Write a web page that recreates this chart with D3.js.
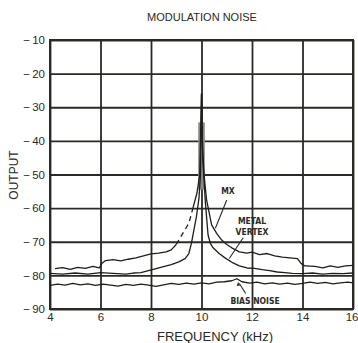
<!DOCTYPE html>
<html>
<head>
<meta charset="utf-8">
<script src="https://cdn.jsdelivr.net/npm/d3@7"></script>
<style>
  body { margin: 0; background: #fff; }
  text { font-family: "Liberation Sans", Arial, sans-serif; fill: #2a2a25; }
</style>
</head>
<body>
<script>
// tick labels
var xTicks = [4, 6, 8, 10, 12, 14, 16];
var yTicks = [-10, -20, -30, -40, -50, -60, -70, -80, -90];

// MX (outer skirt) - freq kHz / output dB
var mxFreq = [4.2, 4.5, 4.8, 5.1, 5.4, 5.7, 5.95, 6.05, 6.2, 6.5, 6.8, 7.1, 7.4, 7.7, 8.0, 8.3, 8.6, 8.8, 9.0,
  9.3, 9.5, 9.66, 9.82, 9.93, 10.0, 10.04, 10.1, 10.2, 10.4, 10.6, 10.8, 11.0, 11.2, 11.5, 11.8, 12.0, 12.3,
  12.6, 12.9, 13.2, 13.5, 13.8, 13.95, 14.1, 14.5, 14.8, 15.1, 15.4, 15.7, 16.0];
var mxOut = [-78.0, -77.7, -78.2, -77.6, -77.9, -77.3, -77.8, -76.5, -75.6, -75.3, -75.7, -75.2, -74.8, -74.2, -73.6, -73.4, -73.0, -72.4, -70.8,
  -67.0, -64.5, -60.0, -55.5, -50.0, -26.0, -42.0, -50.0, -57.5, -65.0, -67.5, -69.5, -70.8, -71.8, -73.0, -73.4, -73.1, -73.8,
  -73.5, -74.2, -74.6, -74.8, -75.0, -76.5, -77.2, -77.3, -77.8, -77.2, -77.6, -77.2, -77.0];
// dashed part of the MX trace
var mxDash = [9.0, 9.66];

// Metal Vertex (inner)
var mvFreq = [4.0, 4.5, 5.0, 5.5, 6.0, 6.5, 7.0, 7.3, 7.6, 7.9, 8.2, 8.5, 8.8, 9.1, 9.35, 9.5, 9.6, 9.7, 9.8, 9.9, 9.96, 10.0,
  10.05, 10.15, 10.26, 10.35, 10.46, 10.7, 10.93, 11.25, 11.5, 11.8, 12.1, 12.4, 12.7, 13.0, 13.3, 13.6, 14.0, 14.4,
  14.8, 15.2, 15.6, 16.0];
var mvOut = [-79.4, -79.6, -79.3, -79.6, -79.2, -79.4, -79.6, -79.3, -79.2, -78.6, -78.0, -77.4, -76.8, -76.0, -75.0, -73.5, -70.5, -66.5, -62.5, -57.0, -50.0, -26.0,
  -45.0, -58.0, -68.0, -70.5, -71.8, -73.5, -74.8, -76.3, -77.2, -77.8, -77.9, -78.3, -78.6, -79.0, -79.2, -79.4, -79.5, -79.3,
  -79.6, -79.4, -79.5, -79.3];

// Bias noise
var biasFreq = [4.0, 4.3, 4.6, 4.9, 5.2, 5.5, 5.8, 6.1, 6.4, 6.7, 7.0, 7.3, 7.6, 7.9, 8.2, 8.5, 8.8, 9.1, 9.4, 9.7, 10.0,
  10.3, 10.6, 10.9, 11.2, 11.4, 11.6, 11.9, 12.2, 12.5, 12.8, 13.1, 13.4, 13.7, 14.0, 14.3, 14.6, 14.9, 15.2, 15.5, 15.8, 16.0];
var biasOut = [-83.0, -82.6, -82.9, -82.4, -82.8, -82.5, -83.0, -82.6, -82.9, -83.2, -82.7, -83.0, -82.6, -82.9, -83.3, -82.8, -82.4, -82.7, -82.3, -82.6, -82.2,
  -82.5, -82.0, -81.9, -81.6, -81.0, -81.9, -82.3, -82.0, -82.5, -82.2, -82.6, -82.3, -82.7, -82.4, -82.0, -82.4, -82.1, -82.5, -82.2, -82.0, -82.2];

// 10 kHz tone smear (grey band)
var toneFreq = 10;
var toneBand = [-34.5, -54.5];

var margin = { top: 40, right: 5, bottom: 34, left: 50 },
  width = 358 - margin.left - margin.right,
  height = 343 - margin.top - margin.bottom;

var svg = d3.select("body").append("svg")
  .attr("width", 358)
  .attr("height", 343);

var canvas = svg.append("g")
  .attr("transform", "translate(" + margin.left + "," + margin.top + ")");

var xScale = d3.scaleLinear().domain([4, 16]).range([0, width]);
var yScale = d3.scaleLinear().domain([-90, -10]).range([height, 0]);

var ink = "#2a2a25";

// grid + axes
var xAxis = d3.axisBottom(xScale).tickValues(xTicks).tickSize(-height).tickPadding(4)
  .tickFormat(function(d) { return d; });
var yAxis = d3.axisLeft(yScale).tickValues(yTicks).tickSize(-width).tickPadding(5)
  .tickFormat(function(d) { return "\u2212\u2009" + Math.abs(d); });

var gx = canvas.append("g")
  .attr("transform", "translate(0," + height + ")")
  .call(xAxis);
var gy = canvas.append("g").call(yAxis);

[gx, gy].forEach(function(g) {
  g.select(".domain").remove();
  g.selectAll("line").style("stroke", ink).style("stroke-width", 1.8);
  g.selectAll("text").style("font-size", "11.5px").style("fill", ink).attr("font-family", null);
});

// last x label sits on the page edge
gx.selectAll(".tick text")
  .filter(function(d) { return d === xTicks[xTicks.length - 1]; })
  .style("text-anchor", "end")
  .attr("x", 5);

canvas.append("rect")
  .attr("width", width)
  .attr("height", height)
  .style("fill", "none")
  .style("stroke", ink)
  .style("stroke-width", 2);

// tone smear
canvas.append("rect")
  .attr("x", xScale(toneFreq) - 3.3)
  .attr("width", 6.6)
  .attr("y", yScale(toneBand[0]))
  .attr("height", yScale(toneBand[1]) - yScale(toneBand[0]))
  .style("fill", "#8a8a86");

var line = d3.line()
  .x(function(d) { return xScale(d[0]); })
  .y(function(d) { return yScale(d[1]); });

var zip = function(f, v) { return f.map(function(d, i) { return [d, v[i]]; }); };

var mx = zip(mxFreq, mxOut);
var mv = zip(mvFreq, mvOut);
var bias = zip(biasFreq, biasOut);

var drawTrace = function(pts, dash) {
  canvas.append("path")
    .attr("d", line(pts))
    .style("fill", "none")
    .style("stroke", "#1e1e1b")
    .style("stroke-width", 1.3)
    .style("stroke-linejoin", "round")
    .style("stroke-dasharray", dash || null);
};

drawTrace(mx.filter(function(d) { return d[0] <= mxDash[0]; }));
drawTrace(mx.filter(function(d) { return d[0] >= mxDash[0] && d[0] <= mxDash[1]; }), "5,4");
drawTrace(mx.filter(function(d) { return d[0] >= mxDash[1]; }));
drawTrace(mv);
drawTrace(bias);

// annotations
var label = function(txt, f, v) {
  canvas.append("text")
    .attr("x", xScale(f))
    .attr("y", yScale(v))
    .attr("dy", "0.35em")
    .style("text-anchor", "middle")
    .style("font-family", "'DejaVu Sans Condensed', sans-serif")
    .style("font-weight", "bold")
    .style("font-size", "8.5px")
    .style("fill", ink)
    .text(txt);
};
var pointer = function(f1, v1, f2, v2) {
  canvas.append("line")
    .attr("x1", xScale(f1)).attr("y1", yScale(v1))
    .attr("x2", xScale(f2)).attr("y2", yScale(v2))
    .style("stroke", ink)
    .style("stroke-width", 1.1);
};

label("MX", 11.05, -55);
pointer(11.0, -57.6, 10.55, -66);
label("METAL", 12.0, -63.8);
label("VERTEX", 12.0, -67.1);
pointer(11.65, -68.8, 11.1, -75);
label("BIAS NOISE", 12.12, -87.6);
pointer(11.75, -85.4, 11.5, -82.4);

// little arrowhead on bias pointer
var ax = xScale(11.45), ay = yScale(-82.0);
canvas.append("path")
  .attr("d", "M" + ax + "," + ay + "l-1.5,4l3.5,-0.5z")
  .style("fill", ink);

// titles
svg.append("text")
  .attr("x", 202)
  .attr("y", 21)
  .style("text-anchor", "middle")
  .style("font-size", "11px")
  .text("MODULATION NOISE");

svg.append("text")
  .attr("x", 215)
  .attr("y", 341)
  .style("text-anchor", "middle")
  .style("font-size", "13px")
  .text("FREQUENCY (kHz)");

svg.append("text")
  .attr("transform", "translate(18,175) rotate(-90)")
  .style("text-anchor", "middle")
  .style("font-size", "12px")
  .text("OUTPUT");
</script>
</body>
</html>
